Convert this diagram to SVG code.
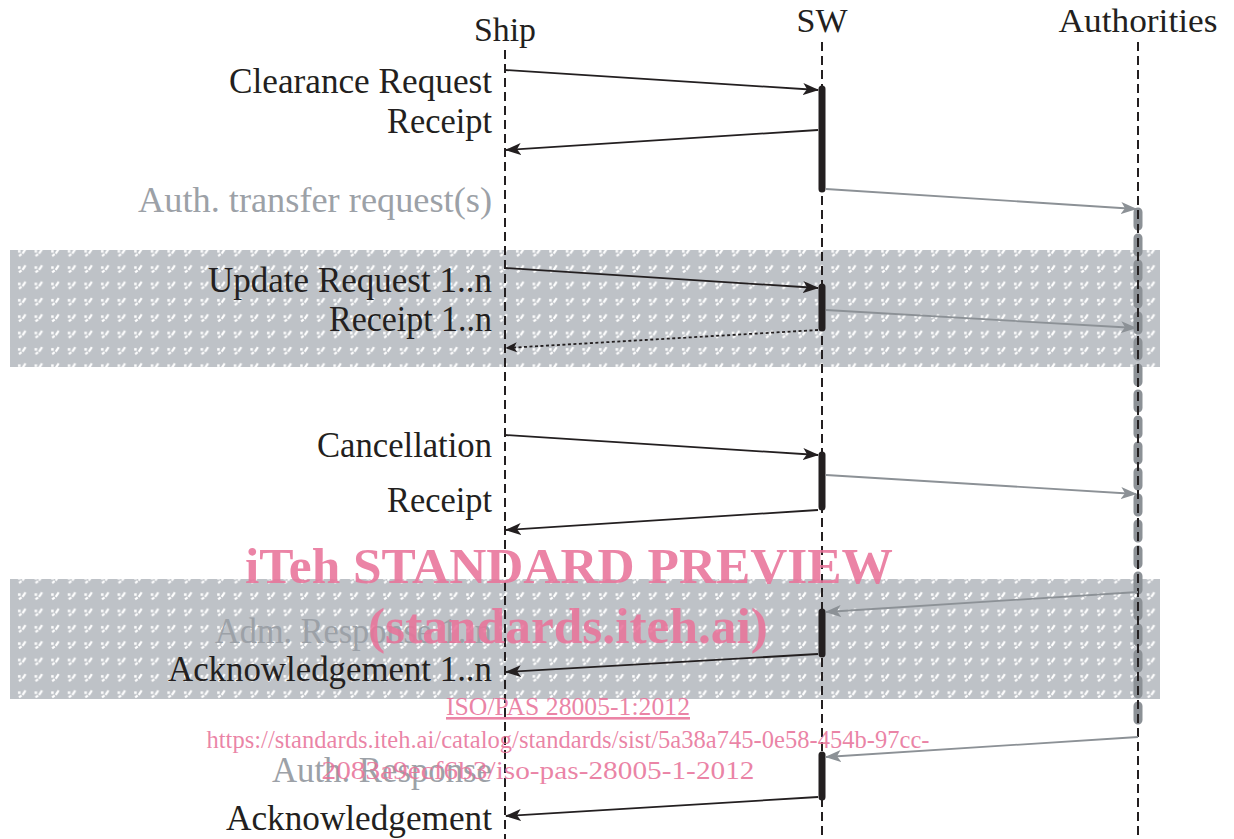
<svg xmlns="http://www.w3.org/2000/svg" width="1234" height="839" viewBox="0 0 1234 839">
  <defs>
    <style>
      text { font-family: "Liberation Serif", "Times New Roman", serif; }
      .lbl { font-size: 35px; fill: #231f20; text-anchor: end; }
      .lbl-g { font-size: 35px; fill: #9ca1a7; text-anchor: end; }
      .head { font-size: 34px; fill: #231f20; text-anchor: middle; }
      .life { stroke: #231f20; stroke-width: 2; stroke-dasharray: 9 5; fill: none; }
      .msg { stroke: #231f20; stroke-width: 1.8; fill: none; }
      .msg-dot { stroke: #231f20; stroke-width: 1.8; stroke-dasharray: 3 2.5; fill: none; }
      .msg-g { stroke: #8c9196; stroke-width: 1.8; fill: none; }
      .act { stroke: #231f20; stroke-width: 7; stroke-linecap: round; }
      .act-g { stroke: #8c9196; stroke-width: 9; stroke-linecap: round; stroke-dasharray: 14 12; fill: none; }
      .band { fill: url(#dots); }
      .wm { fill: #e8739a; fill-opacity: 0.88; text-anchor: middle; }
    </style>
    <pattern id="dots" patternUnits="userSpaceOnUse" x="14" y="246" width="16.6" height="16.35">
      <rect width="16.6" height="16.35" fill="#bec2c7"/>
      <rect x="4" y="4" width="2.5" height="2.5" fill="#ffffff"/>
      <path d="M11.5 3 L8.5 7.5 M7.5 8 L5 10" stroke="#ffffff" stroke-width="2.2" fill="none"/>
    </pattern>
    <marker id="ah" viewBox="0 0 12 10" refX="11" refY="5" markerWidth="12" markerHeight="10" markerUnits="userSpaceOnUse" orient="auto">
      <path d="M0 0 L12 5 L0 10 L3 5 Z" fill="#231f20"/>
    </marker>
    <marker id="ah-big" viewBox="0 0 16 12" refX="15" refY="6" markerWidth="16" markerHeight="12" markerUnits="userSpaceOnUse" orient="auto">
      <path d="M0 0 L16 6 L0 12 L4 6 Z" fill="#231f20"/>
    </marker>
    <marker id="ah-g" viewBox="0 0 16 12" refX="15" refY="6" markerWidth="16" markerHeight="12" markerUnits="userSpaceOnUse" orient="auto">
      <path d="M0 0 L16 6 L0 12 L4 6 Z" fill="#8c9196"/>
    </marker>
  </defs>

  <rect width="1234" height="839" fill="#ffffff"/>

  <!-- shaded bands for the repeating exchanges -->
  <rect class="band" x="10" y="250" width="1150" height="117"/>
  <rect class="band" x="10" y="579" width="1150" height="120"/>

  <!-- lifelines -->
  <g id="ship">
    <text class="head" x="505" y="41" textLength="62" lengthAdjust="spacingAndGlyphs">Ship</text>
    <line class="life" x1="505" y1="50" x2="505" y2="839"/>
  </g>
  <g id="sw">
    <text class="head" x="822" y="32">SW</text>
    <line class="life" x1="822" y1="42" x2="822" y2="839"/>
    <line class="act" x1="822" y1="89" x2="822" y2="189"/>
    <line class="act" x1="822" y1="287" x2="822" y2="328"/>
    <line class="act" x1="822" y1="455" x2="822" y2="507"/>
    <line class="act" x1="822" y1="612" x2="822" y2="654"/>
    <line class="act" x1="822" y1="755" x2="822" y2="797"/>
  </g>
  <g id="authorities">
    <text class="head" x="1138" y="32" textLength="159" lengthAdjust="spacingAndGlyphs">Authorities</text>
    <line class="act-g" x1="1138" y1="212" x2="1138" y2="722"/>
    <line class="life" x1="1138" y1="42" x2="1138" y2="839"/>
  </g>

  <!-- messages -->
  <g id="connectors">
    <line class="msg" x1="505" y1="70" x2="818" y2="90" marker-end="url(#ah-big)"/>
    <line class="msg" x1="818" y1="130" x2="506" y2="150" marker-end="url(#ah-big)"/>
    <line class="msg-g" x1="826" y1="189" x2="1136" y2="209" marker-end="url(#ah-g)"/>

    <line class="msg" x1="505" y1="268" x2="818" y2="288" marker-end="url(#ah-big)"/>
    <line class="msg-g" x1="826" y1="310" x2="1136" y2="328" marker-end="url(#ah-g)"/>
    <line class="msg-dot" x1="818" y1="330" x2="506" y2="348" marker-end="url(#ah)"/>

    <line class="msg" x1="505" y1="435" x2="818" y2="455" marker-end="url(#ah-big)"/>
    <line class="msg-g" x1="826" y1="475" x2="1136" y2="494" marker-end="url(#ah-g)"/>
    <line class="msg" x1="818" y1="510" x2="506" y2="530" marker-end="url(#ah-big)"/>

    <line class="msg-g" x1="1138" y1="592" x2="826" y2="612" marker-end="url(#ah-g)"/>
    <line class="msg" x1="818" y1="654" x2="506" y2="672" marker-end="url(#ah-big)"/>

    <line class="msg-g" x1="1138" y1="737" x2="826" y2="757" marker-end="url(#ah-g)"/>
    <line class="msg" x1="818" y1="797" x2="506" y2="816" marker-end="url(#ah-big)"/>
  </g>

  <!-- message labels -->
  <g id="labels">
    <text class="lbl" x="492" y="93" textLength="263" lengthAdjust="spacingAndGlyphs">Clearance Request</text>
    <text class="lbl" x="492" y="133" textLength="105" lengthAdjust="spacingAndGlyphs">Receipt</text>
    <text class="lbl-g" x="492" y="212" textLength="354" lengthAdjust="spacingAndGlyphs">Auth. transfer request(s)</text>
    <text class="lbl" x="492" y="292" textLength="284" lengthAdjust="spacingAndGlyphs">Update Request 1..n</text>
    <text class="lbl" x="492" y="331" textLength="163" lengthAdjust="spacingAndGlyphs">Receipt 1..n</text>
    <text class="lbl" x="492" y="457" textLength="175" lengthAdjust="spacingAndGlyphs">Cancellation</text>
    <text class="lbl" x="492" y="512" textLength="105" lengthAdjust="spacingAndGlyphs">Receipt</text>
    <text class="lbl-g" x="492" y="643" textLength="277" lengthAdjust="spacingAndGlyphs">Adm. Response 1..n</text>
    <text class="lbl" x="492" y="681" textLength="324" lengthAdjust="spacingAndGlyphs">Acknowledgement 1..n</text>
    <text class="lbl-g" x="492" y="782" textLength="220" lengthAdjust="spacingAndGlyphs">Auth. Response</text>
    <text class="lbl" x="492" y="830" textLength="266" lengthAdjust="spacingAndGlyphs">Acknowledgement</text>
  </g>

  <!-- publisher stamp -->
  <g id="stamp">
    <text class="wm" x="569" y="583" font-size="50" font-weight="bold" textLength="648" lengthAdjust="spacingAndGlyphs">iTeh STANDARD PREVIEW</text>
    <text class="wm" x="568" y="643" font-size="50" font-weight="bold" textLength="400" lengthAdjust="spacingAndGlyphs">(standards.iteh.ai)</text>
    <text class="wm" x="568" y="715" font-size="26" text-decoration="underline" textLength="244" lengthAdjust="spacingAndGlyphs">ISO/PAS 28005-1:2012</text>
    <text class="wm" x="568" y="748" font-size="26" textLength="723" lengthAdjust="spacingAndGlyphs">https://standards.iteh.ai/catalog/standards/sist/5a38a745-0e58-454b-97cc-</text>
    <text class="wm" x="538" y="779" font-size="26" textLength="433" lengthAdjust="spacingAndGlyphs">2083a9ecf6b3/iso-pas-28005-1-2012</text>
  </g>
</svg>
